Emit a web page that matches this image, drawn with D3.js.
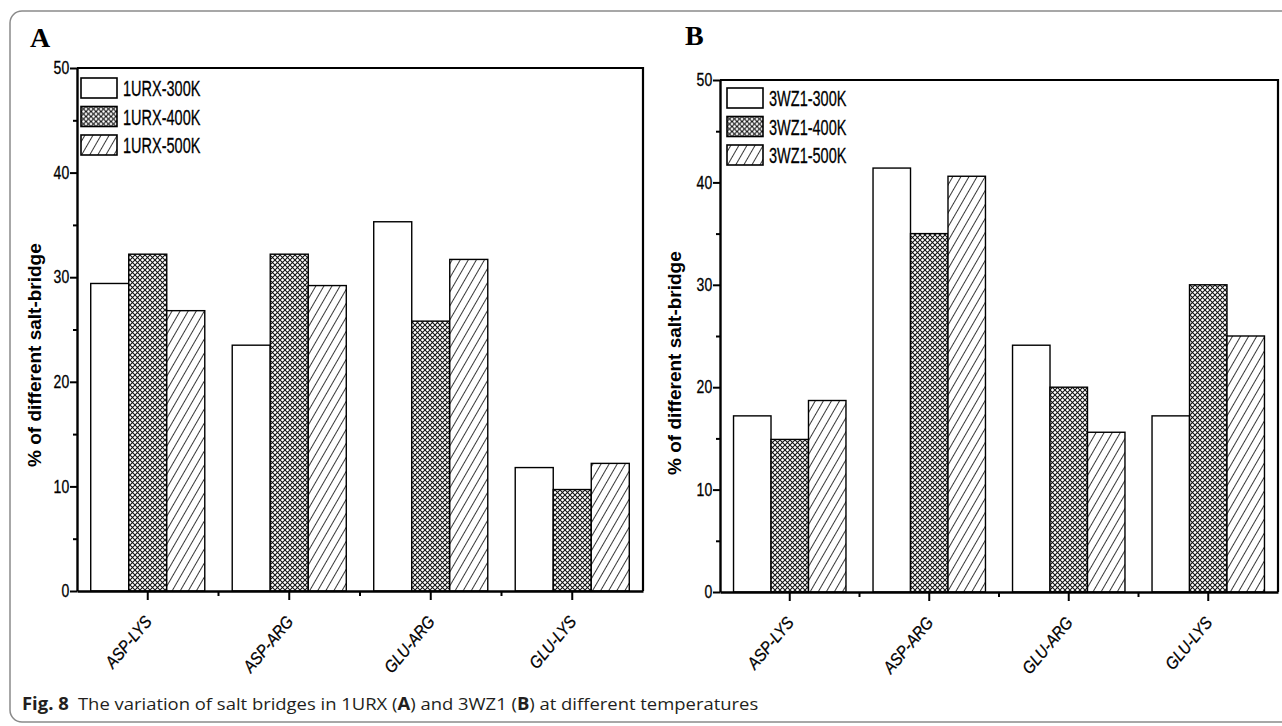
<!DOCTYPE html>
<html>
<head>
<meta charset="utf-8">
<script src="https://cdn.jsdelivr.net/npm/d3@7"></script>
<style>
body { margin: 0; background: #fff; }
</style>
</head>
<body>
<svg id="chart" width="1282" height="726"></svg>
<script>

var categories = ["ASP-LYS", "ASP-ARG", "GLU-ARG", "GLU-LYS"];
var seriesA = ["1URX-300K", "1URX-400K", "1URX-500K"];
var seriesB = ["3WZ1-300K", "3WZ1-400K", "3WZ1-500K"];

// % of salt bridges
var a300 = [29.4, 23.5, 35.3, 11.8];
var a400 = [32.2, 32.2, 25.8, 9.7];
var a500 = [26.8, 29.2, 31.7, 12.2];

var b300 = [17.2, 41.4, 24.1, 17.2];
var b400 = [14.9, 35.0, 20.0, 30.0];
var b500 = [18.7, 40.6, 15.6, 25.0];

var yTicks = [0, 10, 20, 30, 40, 50];
var yMinor = [5, 15, 25, 35, 45];

var svg = d3.select("#chart");

// outer rounded frame of the figure
svg.append("rect")
    .attr("x", 10).attr("y", 11)
    .attr("width", 1300).attr("height", 711)
    .attr("rx", 12)
    .attr("fill", "none")
    .attr("stroke", "#8a8a8a")
    .attr("stroke-width", 1.5);

// fill patterns
var defs = svg.append("defs");
var cross = defs.append("pattern")
    .attr("id", "cross")
    .attr("patternUnits", "userSpaceOnUse")
    .attr("width", 5).attr("height", 5);
cross.append("rect").attr("width", 5).attr("height", 5).attr("fill", "#fff");
cross.append("path")
    .attr("d", "M0,0L5,5M0,5L5,0")
    .attr("stroke", "#111").attr("stroke-width", 1.05);

var hatch = defs.append("pattern")
    .attr("id", "hatch")
    .attr("patternUnits", "userSpaceOnUse")
    .attr("width", 7).attr("height", 7)
    .attr("patternTransform", "rotate(30)");
hatch.append("rect").attr("width", 7).attr("height", 7).attr("fill", "#fff");
hatch.append("line")
    .attr("x1", 3.5).attr("y1", 0).attr("x2", 3.5).attr("y2", 7)
    .attr("stroke", "#222").attr("stroke-width", 0.9);

var fills = ["#fff", "url(#cross)", "url(#hatch)"];

function panel(opt) {
  var g = svg.append("g");

  var x0 = d3.scaleBand()
      .domain(categories)
      .range([opt.left, opt.right]);
  var bw = x0.bandwidth();
  var group = 0.806 * bw;
  var x1 = d3.scaleBand()
      .domain([0, 1, 2])
      .range([(bw - group) / 2, (bw + group) / 2]);

  var y = d3.scaleLinear()
      .domain([0, 50])
      .range([opt.bottom, opt.top]);

  // bars
  opt.values.forEach(function (vals, s) {
    g.append("g").selectAll("rect")
      .data(vals)
      .enter()
      .append("rect")
        .attr("x", function (d, i) { return x0(categories[i]) + x1(s); })
        .attr("y", function (d) { return y(d); })
        .attr("width", x1.bandwidth())
        .attr("height", function (d) { return y(0) - y(d); })
        .attr("fill", fills[s])
        .attr("stroke", "#000")
        .attr("stroke-width", 1.4);
  });

  // frame top / right
  g.append("path")
      .attr("d", "M" + opt.left + "," + opt.top + "H" + opt.right + "V" + opt.bottom)
      .attr("fill", "none")
      .attr("stroke", "#000")
      .attr("stroke-width", 2.2);

  // y axis
  var yAx = g.append("g")
      .attr("transform", "translate(" + opt.left + ",0)")
      .call(d3.axisLeft(y).tickValues(yTicks).tickSize(7).tickPadding(3).tickSizeOuter(0));
  g.append("g")
      .attr("transform", "translate(" + opt.left + ",0)")
      .call(d3.axisLeft(y).tickValues(yMinor).tickSize(4).tickFormat("").tickSizeOuter(0))
      .select(".domain").remove();
  yAx.selectAll("text")
      .attr("font-family", "'Liberation Sans', Arial, sans-serif")
      .attr("font-size", 18)
      .attr("fill", "#000")
      .attr("stroke", "#000")
      .attr("stroke-width", 0.3)
      .attr("transform", "scale(0.78,1)");

  // x axis
  var xAx = g.append("g")
      .attr("transform", "translate(0," + opt.bottom + ")")
      .call(d3.axisBottom(x0).tickSize(9).tickFormat("").tickSizeOuter(0));
  xAx.selectAll(".minor")
      .data(categories.slice(1))
      .enter()
      .append("line")
        .attr("class", "minor")
        .attr("x1", function (d) { return x0(d); })
        .attr("x2", function (d) { return x0(d); })
        .attr("y1", 0).attr("y2", 5);

  g.selectAll(".domain").attr("stroke", "#000").attr("stroke-width", 2.4);
  g.selectAll(".tick line, line.minor").attr("stroke", "#000").attr("stroke-width", 2);

  g.append("g").selectAll("text")
    .data(categories)
    .enter()
    .append("text")
      .attr("transform", function (d) {
        return "translate(" + (x0(d) + bw / 2 + 5) + "," + (opt.bottom + 31) + ") rotate(-50) scale(0.88,1)";
      })
      .attr("text-anchor", "end")
      .attr("font-family", "'Liberation Sans', Arial, sans-serif")
      .attr("font-style", "italic")
      .attr("font-size", 17)
      .attr("stroke", "#000")
      .attr("stroke-width", 0.3)
      .text(function (d) { return d; });

  // y title
  g.append("text")
      .attr("transform", "translate(" + opt.titleX + "," + opt.titleY + ") rotate(-90)")
      .attr("font-family", "'Liberation Sans', Arial, sans-serif")
      .attr("font-weight", "bold")
      .attr("font-size", 19)
      .text("% of different salt-bridge");

  // panel letter
  g.append("text")
      .attr("x", opt.letterX).attr("y", opt.letterY)
      .attr("font-family", "'Liberation Serif', 'Times New Roman', serif")
      .attr("font-weight", "bold")
      .attr("font-size", 28)
      .text(opt.letter);

  // legend
  var leg = g.append("g").selectAll("g")
    .data(opt.series)
    .enter()
    .append("g")
      .attr("transform", function (d, i) {
        return "translate(" + opt.legX + "," + (opt.legY + i * 28.5) + ")";
      });
  leg.append("rect")
      .attr("width", 36).attr("height", 20)
      .attr("fill", function (d, i) { return fills[i]; })
      .attr("stroke", "#000").attr("stroke-width", 1.6);
  leg.append("text")
      .attr("transform", "translate(42,18) scale(0.66,1)")
      .attr("font-family", "'Liberation Sans', Arial, sans-serif")
      .attr("font-size", 22)
      .attr("stroke", "#000")
      .attr("stroke-width", 0.3)
      .text(function (d) { return d; });
}

panel({
  left: 77, right: 643, top: 68, bottom: 591,
  values: [a300, a400, a500], series: seriesA,
  titleX: 41, titleY: 467, letter: "A", letterX: 30, letterY: 47,
  legX: 81, legY: 78
});

panel({
  left: 720, right: 1278, top: 80, bottom: 592,
  values: [b300, b400, b500], series: seriesB,
  titleX: 681, titleY: 475, letter: "B", letterX: 685, letterY: 45,
  legX: 727, legY: 88
});

// caption
var cap = svg.append("text")
    .attr("font-family", "'Open Sans', 'Noto Sans', sans-serif")
    .attr("font-size", 17)
    .attr("fill", "#231f20");
cap.append("tspan").attr("font-weight", "bold").text("Fig. 8");
cap.append("tspan").text("\u2002The variation of salt bridges in 1URX (");
cap.append("tspan").attr("font-weight", "bold").text("A");
cap.append("tspan").text(") and 3WZ1 (");
cap.append("tspan").attr("font-weight", "bold").text("B");
cap.append("tspan").text(") at different temperatures");
var capW = cap.node().getComputedTextLength();
cap.attr("transform", "translate(22,710) scale(" + (737 / capW) + ",1)");

</script>
</body>
</html>
